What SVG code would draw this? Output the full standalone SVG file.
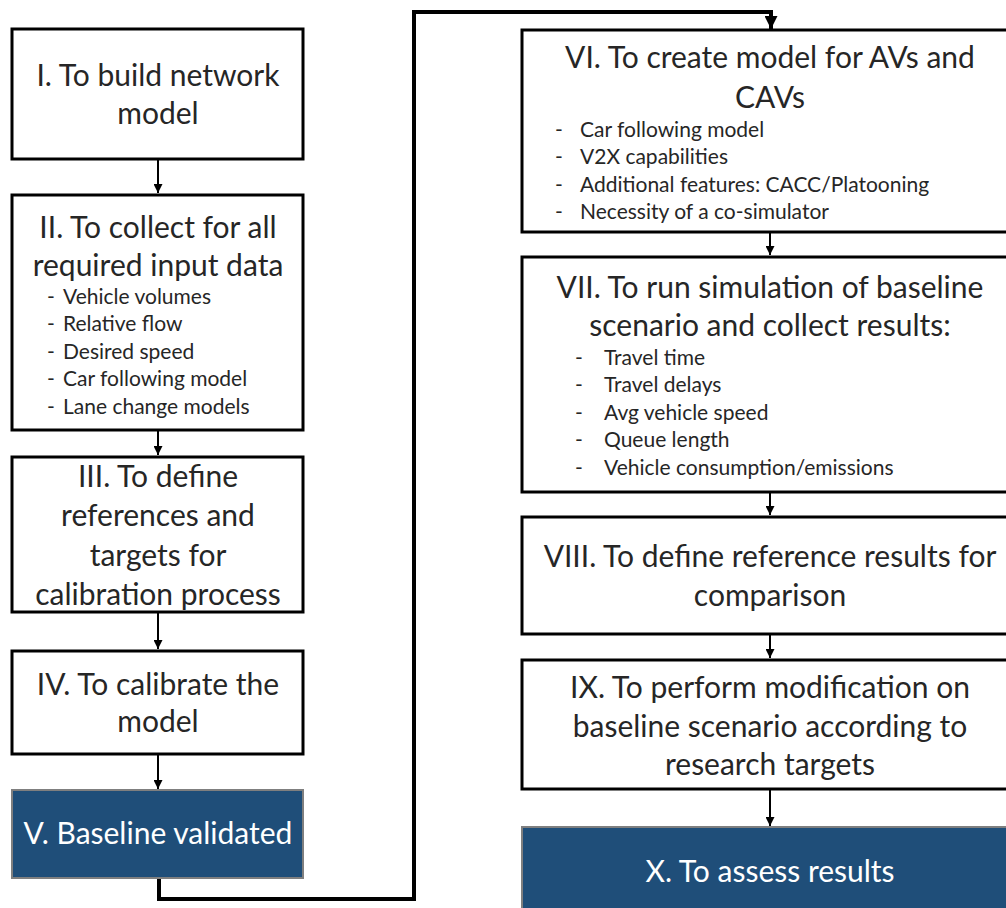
<svg xmlns="http://www.w3.org/2000/svg" width="1006" height="908" viewBox="0 0 1006 908">
<style>
.box{fill:#ffffff;stroke:#000000;stroke-width:3}
.dark{fill:#1f4e79;stroke:#7f7f7f;stroke-width:2}
.t{font-family:Lato,"Open Sans",sans-serif;font-size:30px;fill:#262626;text-anchor:middle}
.w{fill:#ffffff}
.b{font-family:Lato,"Open Sans",sans-serif;font-size:21px;fill:#262626}
.c{fill:none;stroke:#000000;stroke-width:2}
.main{fill:none;stroke:#000000;stroke-width:4}
</style>
<defs>
<marker id="a" markerUnits="userSpaceOnUse" markerWidth="9" markerHeight="9" refX="9" refY="4.5" orient="auto"><path d="M0,0 L9,4.5 L0,9 z" fill="#000"/></marker>
<marker id="big" markerUnits="userSpaceOnUse" markerWidth="13" markerHeight="13" refX="13" refY="6.5" orient="auto"><path d="M0,0 L13,6.5 L0,13 z" fill="#000"/></marker>
</defs>
<g id="connectors">
<line class="c" x1="158" y1="160" x2="158" y2="193" marker-end="url(#a)"/>
<line class="c" x1="158" y1="431" x2="158" y2="455" marker-end="url(#a)"/>
<line class="c" x1="158" y1="613" x2="158" y2="649" marker-end="url(#a)"/>
<line class="c" x1="158" y1="755" x2="158" y2="789" marker-end="url(#a)"/>
<line class="c" x1="770" y1="233" x2="770" y2="255" marker-end="url(#a)"/>
<line class="c" x1="770" y1="493" x2="770" y2="515" marker-end="url(#a)"/>
<line class="c" x1="770" y1="635" x2="770" y2="658" marker-end="url(#a)"/>
<line class="c" x1="770" y1="790" x2="770" y2="826" marker-end="url(#a)"/>
<polyline class="main" points="159,879 159,899 414,899 414,12 771,12 771,29" marker-end="url(#big)"/>
</g>
<g id="n1"><rect class="box" x="12" y="29" width="291" height="130"/>
<text class="t" x="158" y="86">I. To build network</text><text class="t" x="158" y="124">model</text></g>
<g id="n2"><rect class="box" x="12" y="195" width="291" height="235"/>
<text class="t" x="158" y="238">II. To collect for all</text><text class="t" x="158" y="276">required input data</text>
<text class="b" x="47" y="304">-</text><text class="b" x="63" y="304">Vehicle volumes</text>
<text class="b" x="47" y="331">-</text><text class="b" x="63" y="331">Relative flow</text>
<text class="b" x="47" y="359">-</text><text class="b" x="63" y="359">Desired speed</text>
<text class="b" x="47" y="386">-</text><text class="b" x="63" y="386">Car following model</text>
<text class="b" x="47" y="414">-</text><text class="b" x="63" y="414">Lane change models</text></g>
<g id="n3"><rect class="box" x="12" y="457" width="291" height="155"/>
<text class="t" x="158" y="487">III. To define</text><text class="t" x="158" y="526">references and</text>
<text class="t" x="158" y="566">targets for</text><text class="t" x="158" y="605">calibration process</text></g>
<g id="n4"><rect class="box" x="12" y="651" width="291" height="103"/>
<text class="t" x="158" y="695">IV. To calibrate the</text><text class="t" x="158" y="732">model</text></g>
<g id="n5"><rect class="dark" x="12" y="790" width="291" height="88"/>
<text class="t w" x="158" y="844">V. Baseline validated</text></g>
<g id="n6"><rect class="box" x="522" y="30" width="496" height="202"/>
<text class="t" x="770" y="68">VI. To create model for AVs and</text><text class="t" x="770" y="108">CAVs</text>
<text class="b" x="555" y="137">-</text><text class="b" x="580" y="137">Car following model</text>
<text class="b" x="555" y="164">-</text><text class="b" x="580" y="164">V2X capabilities</text>
<text class="b" x="555" y="192">-</text><text class="b" x="580" y="192">Additional features: CACC/Platooning</text>
<text class="b" x="555" y="219">-</text><text class="b" x="580" y="219">Necessity of a co-simulator</text></g>
<g id="n7"><rect class="box" x="522" y="257" width="496" height="235"/>
<text class="t" x="770" y="298">VII. To run simulation of baseline</text><text class="t" x="770" y="336">scenario and collect results:</text>
<text class="b" x="575" y="365">-</text><text class="b" x="604" y="365">Travel time</text>
<text class="b" x="575" y="392">-</text><text class="b" x="604" y="392">Travel delays</text>
<text class="b" x="575" y="420">-</text><text class="b" x="604" y="420">Avg vehicle speed</text>
<text class="b" x="575" y="447">-</text><text class="b" x="604" y="447">Queue length</text>
<text class="b" x="575" y="475">-</text><text class="b" x="604" y="475">Vehicle consumption/emissions</text></g>
<g id="n8"><rect class="box" x="522" y="517" width="496" height="117"/>
<text class="t" x="770" y="567">VIII. To define reference results for</text><text class="t" x="770" y="606">comparison</text></g>
<g id="n9"><rect class="box" x="522" y="660" width="496" height="129"/>
<text class="t" x="770" y="698">IX. To perform modification on</text><text class="t" x="770" y="737">baseline scenario according to</text>
<text class="t" x="770" y="775">research targets</text></g>
<g id="n10"><rect class="dark" x="522" y="827" width="496" height="100"/>
<text class="t w" x="770" y="882">X. To assess results</text></g>
</svg>
